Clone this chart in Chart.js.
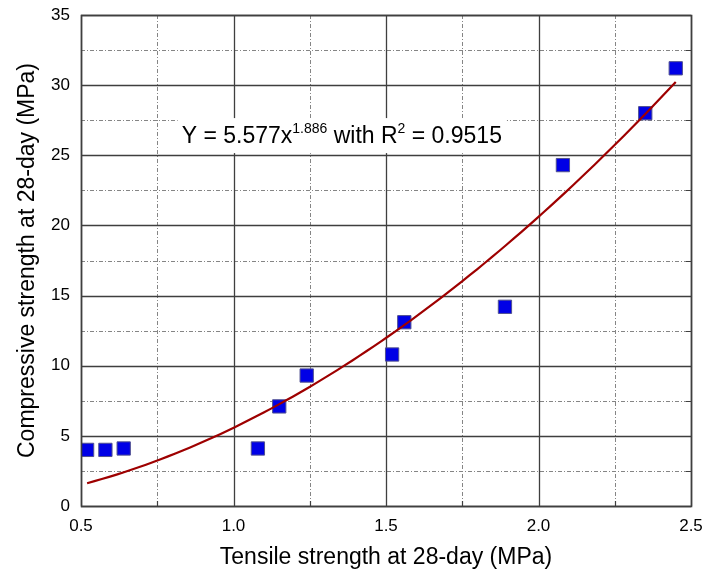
<!DOCTYPE html>
<html>
<head>
<meta charset="utf-8">
<script src="https://cdn.jsdelivr.net/npm/chart.js@4/dist/chart.umd.min.js"></script>
<style>
  html, body { margin: 0; padding: 0; background: #ffffff; }
  #c { display: block; }
</style>
</head>
<body>
<canvas id="c" width="704" height="574"></canvas>
<script>
// Measured specimens: 28-day tensile vs compressive strength (MPa)
const tensile     = [0.52, 0.58, 0.64, 1.08, 1.15, 1.24, 1.52, 1.56, 1.89, 2.08, 2.35, 2.45];
const compressive = [4.0,  4.0,  4.1,  4.1,  7.1,  9.3,  10.8, 13.1, 14.2, 24.3, 28.0, 31.2];

// Power-law fit Y = a * x^b and its coefficient of determination
const fitCoef = 5.577;
const fitExp = 1.886;
const rSquared = 0.9515;
const fitRange = [0.52, 2.45];

// Axis ticks
const xMajorTicks = [0.5, 1.0, 1.5, 2.0, 2.5];
const xMinorTicks = [0.75, 1.25, 1.75, 2.25];
const yMajorTicks = [0, 5, 10, 15, 20, 25, 30, 35];
const yMinorTicks = [2.5, 7.5, 12.5, 17.5, 22.5, 27.5, 32.5];

const points = tensile.map((t, i) => ({ x: t, y: compressive[i] }));

// Fitted curve sampled across the range of the data
const fitCurve = [];
for (let k = 0; k <= 80; k++) {
  const t = fitRange[0] + (fitRange[1] - fitRange[0]) * k / 80;
  fitCurve.push({ x: t, y: fitCoef * Math.pow(t, fitExp) });
}

const FONT = '"Liberation Sans", Arial, sans-serif';

const paperGrid = {
  id: 'paperGrid',
  beforeDatasetsDraw(chart) {
    const { ctx, chartArea: a, scales: { x, y } } = chart;
    const snap = v => Math.round(v) + 0.5;
    ctx.save();

    // dotted minor grid
    ctx.strokeStyle = '#858585';
    ctx.lineWidth = 1;
    ctx.setLineDash([4, 2, 1, 2]);
    ctx.beginPath();
    xMinorTicks.forEach(v => { const p = snap(x.getPixelForValue(v)); ctx.moveTo(p, a.top); ctx.lineTo(p, a.bottom); });
    yMinorTicks.forEach(v => { const p = snap(y.getPixelForValue(v)); ctx.moveTo(a.left, p); ctx.lineTo(a.right, p); });
    ctx.stroke();

    // solid major grid
    ctx.setLineDash([]);
    ctx.strokeStyle = '#3f3f3f';
    ctx.lineWidth = 1.3;
    ctx.beginPath();
    xMajorTicks.forEach(v => { const p = snap(x.getPixelForValue(v)); ctx.moveTo(p, a.top); ctx.lineTo(p, a.bottom); });
    yMajorTicks.forEach(v => { const p = snap(y.getPixelForValue(v)); ctx.moveTo(a.left, p); ctx.lineTo(a.right, p); });
    ctx.stroke();

    // short inward minor ticks on bottom and right edges
    ctx.lineWidth = 1.2;
    ctx.beginPath();
    xMinorTicks.forEach(v => { const p = snap(x.getPixelForValue(v)); ctx.moveTo(p, a.bottom); ctx.lineTo(p, a.bottom - 5); });
    yMinorTicks.forEach(v => { const p = snap(y.getPixelForValue(v)); ctx.moveTo(a.right, p); ctx.lineTo(a.right - 5, p); });
    ctx.stroke();

    // fit equation with white backing
    const big = '23px ' + FONT;
    const small = '14px ' + FONT;
    const parts = [
      { t: 'Y = ' + fitCoef.toFixed(3) + 'x', f: big, dy: 0 },
      { t: fitExp.toFixed(3), f: small, dy: -10 },
      { t: ' with R', f: big, dy: 0 },
      { t: '2', f: small, dy: -10 },
      { t: ' = ' + rSquared.toFixed(4), f: big, dy: 0 }
    ];
    let total = 0;
    parts.forEach(p => { ctx.font = p.f; p.w = ctx.measureText(p.t).width; total += p.w; });
    const x0 = x.getPixelForValue(0.83);
    const base = y.getPixelForValue(25.87);
    ctx.fillStyle = '#ffffff';
    ctx.fillRect(x0 - 4, base - 25, total + 9, 35);
    ctx.fillStyle = '#000000';
    ctx.textBaseline = 'alphabetic';
    ctx.textAlign = 'left';
    let cx = x0;
    parts.forEach(p => { ctx.font = p.f; ctx.fillText(p.t, cx, base + p.dy); cx += p.w; });

    ctx.restore();
  },
  afterDatasetsDraw(chart) {
    const { ctx, chartArea: a } = chart;
    ctx.save();
    ctx.strokeStyle = '#3f3f3f';
    ctx.lineWidth = 1.6;
    ctx.strokeRect(Math.round(a.left) + 0.5, Math.round(a.top) + 0.5,
                   Math.round(a.right - a.left), Math.round(a.bottom - a.top));
    ctx.restore();
  }
};

new Chart(document.getElementById('c'), {
  type: 'scatter',
  data: {
    datasets: [
      {
        label: 'Power fit',
        data: fitCurve,
        showLine: true,
        borderColor: '#9e0000',
        borderWidth: 2.2,
        pointRadius: 0,
        tension: 0,
        order: 0
      },
      {
        label: 'Specimens',
        data: points,
        pointStyle: 'rect',
        pointRadius: 9.4,
        backgroundColor: '#0000e6',
        borderColor: '#505090',
        borderWidth: 1,
        order: 1
      }
    ]
  },
  options: {
    responsive: false,
    devicePixelRatio: 1,
    animation: false,
    layout: { padding: { top: 15, right: 13, left: 0, bottom: 0 } },
    plugins: { legend: { display: false }, tooltip: { enabled: false } },
    scales: {
      x: {
        type: 'linear',
        min: 0.5, max: 2.5,
        afterBuildTicks: s => { s.ticks = xMajorTicks.map(v => ({ value: v })); },
        afterFit: s => { s.height = 68; s.paddingLeft = 0; s.paddingRight = 0; },
        grid: { display: false, drawTicks: false },
        border: { display: false },
        ticks: {
          callback: v => Number(v).toFixed(1),
          font: { size: 17, family: FONT },
          color: '#000000',
          padding: 10,
          maxRotation: 0
        },
        title: {
          display: true,
          text: 'Tensile strength at 28-day (MPa)',
          font: { size: 23, family: FONT },
          color: '#000000',
          padding: { top: 0, bottom: 3 }
        }
      },
      y: {
        type: 'linear',
        min: 0, max: 35,
        afterBuildTicks: s => { s.ticks = yMajorTicks.map(v => ({ value: v })); },
        afterFit: s => { s.width = 81; s.paddingTop = 0; s.paddingBottom = 0; },
        grid: { display: false, drawTicks: false },
        border: { display: false },
        ticks: {
          callback: v => String(v),
          font: { size: 17, family: FONT },
          color: '#000000',
          padding: 11
        },
        title: {
          display: true,
          text: 'Compressive strength at 28-day (MPa)',
          font: { size: 23, family: FONT },
          color: '#000000',
          padding: { top: 14, bottom: 0 }
        }
      }
    }
  },
  plugins: [paperGrid]
});
</script>
</body>
</html>
